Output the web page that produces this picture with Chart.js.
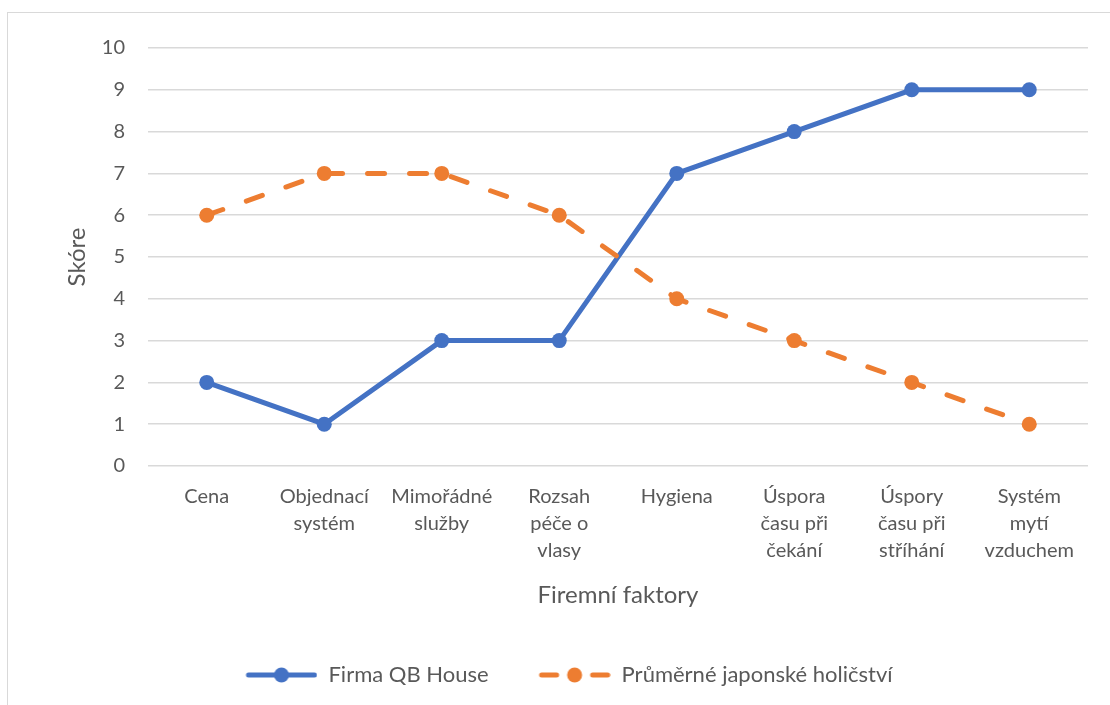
<!DOCTYPE html>
<html>
<head>
<meta charset="utf-8">
<script src="https://cdn.jsdelivr.net/npm/chart.js@4"></script>
<style>
  html, body { margin: 0; padding: 0; background: #fff; }
  #wrap { width: 1110px; height: 705px; position: relative; }
</style>
</head>
<body>
<div id="wrap"><canvas id="chart"></canvas></div>
<script>
// kategorie a hodnoty
const factors = [
  "Cena",
  ["Objednací", "systém"],
  ["Mimořádné", "služby"],
  ["Rozsah", "péče o", "vlasy"],
  "Hygiena",
  ["Úspora", "času při", "čekání"],
  ["Úspory", "času při", "stříhání"],
  ["Systém", "mytí", "vzduchem"],
];
const qbHouse = [2, 1, 3, 3, 7, 8, 9, 9];
const japanAvg = [6, 7, 7, 6, 4, 3, 2, 1];
const seriesNames = ["Firma QB House", "Průměrné japonské holičství"];

const BLUE = "#4472C4";
const ORANGE = "#ED7D31";
const TEXT = "#595959";
const GRID = "#D9D9D9";
const FONT = "Lato, 'Open Sans', sans-serif";

// legenda: čára s bodem jako obrázek
function legendMarker(color, dashed) {
  const c = document.createElement("canvas");
  c.width = 112;
  c.height = 20;
  const ctx = c.getContext("2d");
  ctx.strokeStyle = color;
  ctx.fillStyle = color;
  ctx.lineWidth = 5;
  ctx.lineCap = "round";
  ctx.beginPath();
  if (dashed) {
    ctx.moveTo(43, 10); ctx.lineTo(58, 10);
    ctx.moveTo(94, 10); ctx.lineTo(109, 10);
  } else {
    ctx.moveTo(43, 10); ctx.lineTo(109, 10);
  }
  ctx.stroke();
  ctx.beginPath();
  ctx.arc(76, 10, 7.5, 0, Math.PI * 2);
  ctx.fill();
  return c;
}
const markers = [legendMarker(BLUE, false), legendMarker(ORANGE, true)];

const framePlugin = {
  id: "frame",
  beforeDraw(chart) {
    const ctx = chart.ctx;
    ctx.save();
    ctx.strokeStyle = GRID;
    ctx.lineWidth = 1;
    ctx.strokeRect(7.5, 12.5, 1300, 900);
    ctx.restore();
  },
};

const ctx = document.getElementById("chart").getContext("2d");
new Chart(ctx, {
  type: "line",
  data: {
    labels: factors,
    datasets: [
      {
        label: seriesNames[0],
        data: qbHouse,
        borderColor: BLUE,
        backgroundColor: BLUE,
        borderWidth: 5,
        pointRadius: 7.5,
        pointBorderWidth: 0,
        pointHoverRadius: 7.5,
        tension: 0,
        order: 1,
      },
      {
        label: seriesNames[1],
        data: japanAvg,
        borderColor: ORANGE,
        backgroundColor: ORANGE,
        borderWidth: 5,
        borderDash: [17, 25],
        borderCapStyle: "round",
        pointRadius: 7.5,
        pointBorderWidth: 0,
        pointHoverRadius: 7.5,
        tension: 0,
        order: 0,
      },
    ],
  },
  options: {
    responsive: true,
    maintainAspectRatio: false,
    animation: false,
    layout: { padding: { top: 48, right: 22, left: 10, bottom: 9 } },
    scales: {
      x: {
        offset: true,
        grid: { display: false },
        border: { display: false },
        ticks: {
          color: TEXT,
          font: { family: FONT, size: 20, lineHeight: 1.35 },
          padding: 9,
          maxRotation: 0,
          autoSkip: false,
        },
        title: {
          display: true,
          text: "Firemní faktory",
          color: TEXT,
          font: { family: FONT, size: 24 },
          padding: { top: 0, bottom: 44 },
        },
        afterFit(scale) { scale.height = 188; },
      },
      y: {
        min: 0,
        max: 10,
        grid: { color: GRID, lineWidth: 1.5, drawTicks: false },
        border: { display: false },
        ticks: {
          stepSize: 1,
          color: TEXT,
          font: { family: FONT, size: 20 },
          padding: 23,
        },
        title: {
          display: true,
          text: "Skóre",
          color: TEXT,
          font: { family: FONT, size: 24 },
          padding: { top: 53, bottom: 0 },
        },
        afterFit(scale) { scale.width = 138; },
      },
    },
    plugins: {
      tooltip: { enabled: false },
      legend: {
        position: "bottom",
        labels: {
          color: TEXT,
          font: { family: FONT, size: 22 },
          usePointStyle: true,
          pointStyleWidth: 112,
          padding: 10,
          sort: (a, b) => a.datasetIndex - b.datasetIndex,
          generateLabels(chart) {
            const items = Chart.defaults.plugins.legend.labels.generateLabels(chart);
            items.forEach((it) => { it.pointStyle = markers[it.datasetIndex]; });
            return items;
          },
        },
      },
    },
  },
  plugins: [framePlugin],
});
</script>
</body>
</html>
